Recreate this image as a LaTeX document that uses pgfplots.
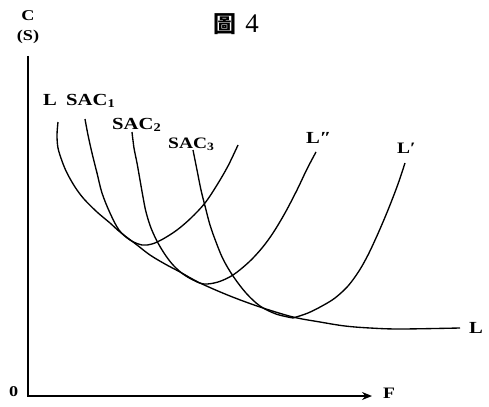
\documentclass[border=0pt]{standalone}
\usepackage{fontspec}
\setmainfont{Liberation Serif}[FakeStretch=1.22]
\newfontfamily\plainserif{Liberation Serif}
\newfontfamily\cjk{Noto Sans CJK TC}
\usepackage{pgfplots}
\pgfplotsset{compat=1.18}
\usetikzlibrary{arrows.meta}
\begin{document}
\begin{tikzpicture}
\begin{axis}[scale only axis, width=489bp, height=407bp,
  xmin=0, xmax=489, ymin=0, ymax=407, y dir=reverse, hide axis, clip=false]
\addplot[draw=none] coordinates {(0,0) (489,407)};
% axes
\addplot[black, line width=1.7pt] coordinates {(28,56) (28,396) (360,396)};
\addplot[black, line width=1.3pt, -{Stealth[length=10pt,width=8pt]}] coordinates {(350,396) (372,396)};
% envelope L
\addplot[black, line width=1.35pt, smooth, tension=0.55] coordinates {
(58,122) (57,135) (58,148) (62,161) (67,173) (75,187) (84,199) (97,212) (110,223) (120,232) (137,245) (150,255) (165,264) (180,272) (200,283) (230,296) (260,307) (293,317) (320,322) (345,326) (370,328) (400,329) (460,328)};
% SAC1
\addplot[black, line width=1.35pt, smooth, tension=0.55] coordinates {
(85,119) (88,135) (92,153) (97,173) (102,193) (110,213) (119,230) (130,240) (142,245) (152,244) (163,239) (177,230) (191,218) (205,203) (217,185) (228,166) (238,145)};
% SAC2
\addplot[black, line width=1.35pt, smooth, tension=0.55] coordinates {
(132,132) (134,148) (137,163) (140,180) (143,197) (146,212) (151,228) (158,243) (166,256) (174,266) (183,274) (193,280) (204,284) (218,282) (233,275) (249,262) (262,248) (273,233) (285,213) (297,190) (307,169) (316,152)};
% SAC3
\addplot[black, line width=1.35pt, smooth, tension=0.55] coordinates {
(193,150) (197,170) (201,190) (205,206) (210,225) (216,242) (223,259) (233,276) (246,293) (260,306) (276,314) (293,318)};
\addplot[black, line width=1.35pt, smooth, tension=0.55] coordinates {
(293,318) (308,313) (322,306) (335,298) (348,286) (359,271) (368,255) (376,238) (383,222) (390,205) (398,184) (405,163)};
% labels
\node[font=\bfseries\fontsize{15}{15}\selectfont, anchor=base] at (axis cs:28,21) {C};
\node[font=\bfseries\fontsize{15}{15}\selectfont, anchor=base] at (axis cs:28,40) {(S)};
\node[font=\cjk\bfseries\fontsize{23}{23}\selectfont, anchor=base] at (axis cs:225,32) {圖};
\node[font=\plainserif\fontsize{27}{27}\selectfont, anchor=base] at (axis cs:252,32) {4};
\node[font=\bfseries\fontsize{17}{17}\selectfont, anchor=base west, inner sep=0pt] at (axis cs:43,105) {L};
\node[font=\bfseries\fontsize{17}{17}\selectfont, anchor=base west, inner sep=0pt] at (axis cs:66,105) {SAC\textsubscript{1}};
\node[font=\bfseries\fontsize{17}{17}\selectfont, anchor=base west, inner sep=0pt] at (axis cs:112,129) {SAC\textsubscript{2}};
\node[font=\bfseries\fontsize{16}{16}\selectfont, anchor=base west, inner sep=0pt] at (axis cs:168,148) {SAC\textsubscript{3}};
\node[font=\bfseries\fontsize{17}{17}\selectfont, anchor=base west, inner sep=0pt] at (axis cs:306,143) {L″};
\node[font=\bfseries\fontsize{16}{16}\selectfont, anchor=base west, inner sep=0pt] at (axis cs:397,153) {L′};
\node[font=\bfseries\fontsize{17}{17}\selectfont, anchor=base west, inner sep=0pt] at (axis cs:469,333) {L};
\node[font=\bfseries\fontsize{16}{16}\selectfont, anchor=base west, inner sep=0pt] at (axis cs:383,398) {F};
\node[font=\bfseries\fontsize{15}{15}\selectfont, anchor=base west, inner sep=0pt] at (axis cs:9,396) {0};
\end{axis}
\end{tikzpicture}
\end{document}
